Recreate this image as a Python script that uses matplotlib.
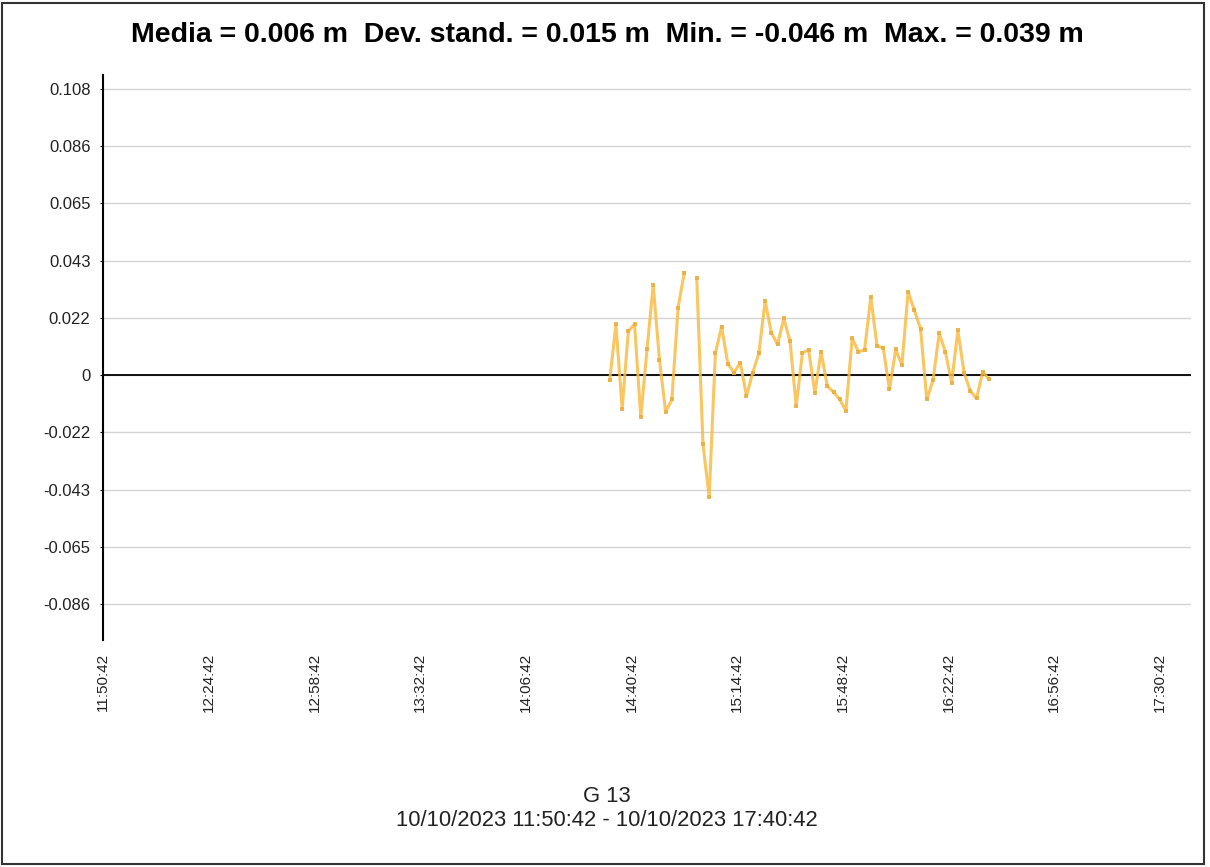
import numpy as np
import pandas as pd
import matplotlib
matplotlib.use("Agg")
import matplotlib.pyplot as plt
from matplotlib.patches import Rectangle

# valori (m), campionamento ogni 2 minuti, un dato mancante
valori = [-0.002, 0.0192, -0.0127, 0.0166, 0.0192, -0.0159, 0.0097, 0.034, 0.0058,
          -0.0139, -0.0092, 0.0255, 0.0387, np.nan, 0.0366, -0.026, -0.046, 0.0084,
          0.0183, 0.0043, 0.0009, 0.0047, -0.0079, 0.0009, 0.0084, 0.028, 0.016,
          0.0116, 0.0214, 0.0129, -0.0117, 0.0084, 0.0095, -0.0067, 0.0088, -0.0042,
          -0.0064, -0.0092, -0.0134, 0.0139, 0.0088, 0.0095, 0.0295, 0.011, 0.0103,
          -0.0054, 0.0097, 0.0038, 0.0315, 0.0245, 0.0175, -0.0092, -0.002, 0.0158,
          0.0087, -0.0029, 0.0169, 0.0009, -0.006, -0.0088, 0.0012, -0.0016]
inizio_dati = "2023-10-10 14:33:42"
passo = "2min"

inizio = "2023-10-10 11:50:42"
fine = "2023-10-10 17:40:42"
x_tick_labels = ["11:50:42", "12:24:42", "12:58:42", "13:32:42", "14:06:42", "14:40:42",
                 "15:14:42", "15:48:42", "16:22:42", "16:56:42", "17:30:42"]
y_ticks = [0.108, 0.0864, 0.0648, 0.0432, 0.0216, 0, -0.0216, -0.0432, -0.0648, -0.0864]
y_tick_labels = ["0.108", "0.086", "0.065", "0.043", "0.022", "0",
                 "-0.022", "-0.043", "-0.065", "-0.086"]

titolo = "Media = 0.006 m  Dev. stand. = 0.015 m  Min. = -0.046 m  Max. = 0.039 m"
nome = "G 13"
periodo = "10/10/2023 11:50:42 - 10/10/2023 17:40:42"

tempi = pd.date_range(inizio_dati, periods=len(valori), freq=passo)

fig = plt.figure(figsize=(12.1, 8.67), dpi=100)
fig.patches.append(Rectangle((2 / 1210, 3 / 867), 1202 / 1210, 861 / 867,
                             transform=fig.transFigure, fill=False,
                             edgecolor="#333333", linewidth=1.5))

ax = fig.add_axes([103 / 1210, 1 - 640 / 867, 1088 / 1210, 565 / 867])

ax.plot(tempi, valori, color="#F8BC45", alpha=0.85, linewidth=2.2,
        marker="s", markersize=2.5, markerfacecolor="#E9AC3E", markeredgewidth=0)
ax.axhline(0, color="black", linewidth=1.3, zorder=1)

ax.set_xlim(pd.Timestamp(inizio), pd.Timestamp(fine))
ax.set_ylim(-0.100, 0.1133)

x_ticks = [pd.Timestamp("2023-10-10 " + t) for t in x_tick_labels]
ax.set_xticks(x_ticks)
ax.set_xticklabels(x_tick_labels, rotation=90, fontsize=11,
                   family="Liberation Sans", color="#222222")
ax.set_yticks(y_ticks)
ax.set_yticklabels(y_tick_labels, fontsize=12, family="Liberation Sans",
                   color="#222222")
ax.tick_params(axis="x", length=0, pad=9)
ax.tick_params(axis="y", length=2, pad=7)

ax.grid(axis="y", color="#d4d4d4", linewidth=1)
ax.set_axisbelow(True)
for s in ["top", "right", "bottom"]:
    ax.spines[s].set_visible(False)
ax.spines["left"].set_linewidth(1.5)

fig.text(607 / 1210, 1 - 35 / 867, titolo, ha="center", va="center", fontsize=20.5,
         fontweight="bold", family=["Liberation Sans", "DejaVu Sans"])
fig.text(607 / 1210, 1 - 796 / 867, nome, ha="center", va="center", fontsize=15.8,
         family="Liberation Sans", color="#222222")
fig.text(607 / 1210, 1 - 821 / 867, periodo, ha="center", va="center", fontsize=15.8,
         family="Liberation Sans", color="#222222")

fig.savefig("out.png", dpi=100)
